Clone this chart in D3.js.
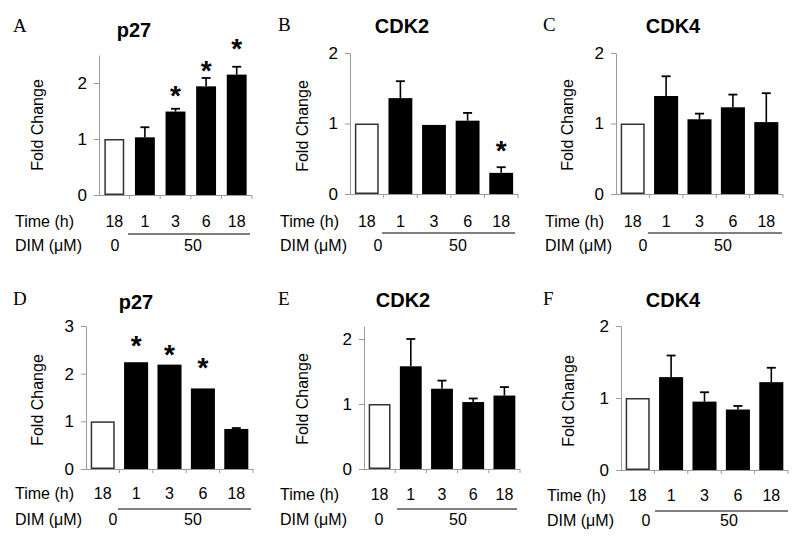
<!DOCTYPE html>
<html>
<head>
<meta charset="utf-8">
<script src="https://cdn.jsdelivr.net/npm/d3@7"></script>
<style>
  html, body { margin: 0; padding: 0; background: #fff; }
  svg { display: block; }
  text { font-family: "Liberation Sans", Arial, sans-serif; fill: #000; }
</style>
</head>
<body>
<svg id="chart" width="800" height="546"></svg>
<script>
// ---------- DATA ----------
const categories = ["ctrl-18h", "DIM-1h", "DIM-3h", "DIM-6h", "DIM-18h"];
const timeLabels = ["18", "1", "3", "6", "18"];
const dimLabels = ["0", "50"];
const panelLetters = ["A", "B", "C", "D", "E", "F"];
const panelTitles = ["p27", "CDK2", "CDK4", "p27", "CDK2", "CDK4"];
const yAxisLabel = "Fold Change";
const yMaxes = [2.5, 2, 2, 3, 2.2, 2];
const yTickValues = [[0, 1, 2], [0, 1, 2], [0, 1, 2], [0, 1, 2, 3], [0, 1, 2], [0, 1, 2]];

const valuesA = [1.00, 1.03, 1.49, 1.94, 2.15];
const errorsA = [0, 0.18, 0.05, 0.15, 0.14];
const starsA  = [null, null, 1.88, 2.32, 2.71];

const valuesB = [1.00, 1.36, 0.98, 1.04, 0.30];
const errorsB = [0, 0.24, 0, 0.11, 0.08];
const starsB  = [null, null, null, null, 0.69];

const valuesC = [1.00, 1.39, 1.06, 1.23, 1.02];
const errorsC = [0, 0.28, 0.08, 0.18, 0.41];
const starsC  = [null, null, null, null, null];

const valuesD = [1.00, 2.24, 2.19, 1.69, 0.84];
const errorsD = [0, 0, 0, 0, 0.02];
const starsD  = [null, 2.71, 2.52, 2.24, null];

const valuesE = [1.00, 1.58, 1.235, 1.03, 1.13];
const errorsE = [0, 0.42, 0.125, 0.055, 0.13];
const starsE  = [null, null, null, null, null];

const valuesF = [1.00, 1.29, 0.95, 0.84, 1.22];
const errorsF = [0, 0.30, 0.13, 0.05, 0.20];
const starsF  = [null, null, null, null, null];

const panelValues = [valuesA, valuesB, valuesC, valuesD, valuesE, valuesF];
const panelErrors = [errorsA, errorsB, errorsC, errorsD, errorsE, errorsF];
const panelStars  = [starsA, starsB, starsC, starsD, starsE, starsF];

// ---------- LAYOUT ----------
const layout = [
  {x0: 99,  x1: 252, y0: 195, yTop: 55,  bar: 0.65, lx: 13,  ly: 32,  tx: 134, ty: 37,  fx: 37,  fy: 125, labX: 15,  timeY: 227, dimY: 251, lineX0: 128, lineX1: 250, lineY: 234, zeroX: 115, fiftyX: 193},
  {x0: 350, x1: 518, y0: 194, yTop: 53,  bar: 0.71, lx: 278, ly: 31,  tx: 402, ty: 33,  fx: 302, fy: 126, labX: 280, timeY: 227, dimY: 251, lineX0: 382, lineX1: 515, lineY: 233, zeroX: 378, fiftyX: 458},
  {x0: 616, x1: 783, y0: 194, yTop: 53,  bar: 0.72, lx: 543, ly: 31,  tx: 673, ty: 33,  fx: 567, fy: 125, labX: 545, timeY: 227, dimY: 251, lineX0: 648, lineX1: 782, lineY: 233, zeroX: 643, fiftyX: 723},
  {x0: 86,  x1: 253, y0: 469, yTop: 326, bar: 0.72, lx: 13,  ly: 305, tx: 136, ty: 309, fx: 37,  fy: 400, labX: 15,  timeY: 499, dimY: 525, lineX0: 118, lineX1: 251, lineY: 509, zeroX: 113, fiftyX: 193},
  {x0: 364, x1: 520, y0: 469, yTop: 326, bar: 0.70, lx: 278, ly: 305, tx: 403, ty: 307, fx: 302, fy: 399, labX: 280, timeY: 500, dimY: 525, lineX0: 397, lineX1: 517, lineY: 509, zeroX: 379, fiftyX: 458},
  {x0: 621, x1: 788, y0: 470, yTop: 326, bar: 0.72, lx: 543, ly: 305, tx: 673, ty: 307, fx: 568, fy: 401, labX: 547, timeY: 501, dimY: 526, lineX0: 655, lineX1: 788, lineY: 511, zeroX: 646, fiftyX: 729}
];

const svg = d3.select("#chart");
const axisGray = "#9a9a9a";

panelLetters.forEach((letter, i) => {
  const L = layout[i];
  const vals = panelValues[i], errs = panelErrors[i], stars = panelStars[i];
  const g = svg.append("g");

  const x = d3.scaleBand().domain(categories).range([L.x0, L.x1]).padding(0);
  const y = d3.scaleLinear().domain([0, yMaxes[i]]).range([L.y0, L.yTop]);
  const bw = x.bandwidth() * L.bar;
  const off = (x.bandwidth() - bw) / 2;

  // panel letter
  g.append("text").attr("x", L.lx).attr("y", L.ly)
    .style("font-family", "'Liberation Serif', 'Times New Roman', serif")
    .style("font-size", "19px").text(letter);

  // title
  g.append("text").attr("x", L.tx).attr("y", L.ty).attr("text-anchor", "middle")
    .style("font-size", "20px").style("font-weight", "bold").text(panelTitles[i]);

  // y axis
  const yAxis = d3.axisLeft(y).tickValues(yTickValues[i]).tickFormat(d3.format("d"))
    .tickSize(5).tickSizeOuter(0).tickPadding(7);
  const ya = g.append("g").attr("transform", `translate(${L.x0},0)`).call(yAxis);
  ya.select(".domain").attr("stroke", axisGray).attr("stroke-width", 1);
  ya.selectAll(".tick line").attr("stroke", axisGray);
  ya.selectAll(".tick text").style("font-size", "17px")
    .style("font-family", "'Liberation Sans', Arial, sans-serif").attr("fill", "#000");

  // x axis line + ticks at band boundaries
  g.append("line").attr("x1", L.x0).attr("x2", L.x1).attr("y1", L.y0 + 0.5).attr("y2", L.y0 + 0.5)
    .attr("stroke", axisGray);
  const bounds = categories.map(c => x(c)).concat([x.range()[1]]);
  g.selectAll(".xt").data(bounds.slice(1)).enter().append("line")
    .attr("x1", d => d).attr("x2", d => d).attr("y1", L.y0).attr("y2", L.y0 + 4)
    .attr("stroke", axisGray);

  // y label
  g.append("text").attr("transform", `translate(${L.fx},${L.fy}) rotate(-90)`)
    .attr("text-anchor", "middle").attr("dy", "0.35em").style("font-size", "16px").text(yAxisLabel);

  // bars
  g.selectAll(".bar").data(categories).enter().append("rect")
    .attr("x", (c, j) => x(c) + off + (j === 0 ? 0.75 : 0))
    .attr("y", (c, j) => y(vals[j]) + (j === 0 ? 0.75 : 0))
    .attr("width", (c, j) => bw - (j === 0 ? 1.5 : 0))
    .attr("height", (c, j) => y(0) - y(vals[j]) - (j === 0 ? 1.5 : 0))
    .attr("fill", (c, j) => j === 0 ? "#fff" : "#000")
    .attr("stroke", (c, j) => j === 0 ? "#333" : "none")
    .attr("stroke-width", 1.5);

  // error bars (upper only)
  categories.forEach((c, j) => {
    if (!errs[j]) return;
    const cx = x(c) + x.bandwidth() / 2;
    g.append("line").attr("x1", cx).attr("x2", cx)
      .attr("y1", y(vals[j])).attr("y2", y(vals[j] + errs[j]))
      .attr("stroke", "#000").attr("stroke-width", 1.6);
    g.append("line").attr("x1", cx - 4.5).attr("x2", cx + 4.5)
      .attr("y1", y(vals[j] + errs[j])).attr("y2", y(vals[j] + errs[j]))
      .attr("stroke", "#000").attr("stroke-width", 1.8);
  });

  // significance stars
  categories.forEach((c, j) => {
    if (stars[j] == null) return;
    g.append("text").attr("x", x(c) + x.bandwidth() / 2).attr("y", y(stars[j]) + 15)
      .attr("text-anchor", "middle").style("font-size", "28px").style("font-weight", "bold").text("*");
  });

  // time row
  g.append("text").attr("x", L.labX).attr("y", L.timeY).style("font-size", "16px").text("Time (h)");
  g.selectAll(".tl").data(categories).enter().append("text")
    .attr("x", c => x(c) + x.bandwidth() / 2).attr("y", L.timeY)
    .attr("text-anchor", "middle").style("font-size", "16px")
    .text((c, j) => timeLabels[j]);

  // DIM row
  g.append("text").attr("x", L.labX).attr("y", L.dimY).style("font-size", "16px").text("DIM (μM)");
  g.append("line").attr("x1", L.lineX0).attr("x2", L.lineX1).attr("y1", L.lineY).attr("y2", L.lineY)
    .attr("stroke", "#000").attr("stroke-width", 1);
  g.append("text").attr("x", L.zeroX).attr("y", L.dimY).attr("text-anchor", "middle")
    .style("font-size", "16px").text(dimLabels[0]);
  g.append("text").attr("x", L.fiftyX).attr("y", L.dimY).attr("text-anchor", "middle")
    .style("font-size", "16px").text(dimLabels[1]);
});
</script>
</body>
</html>
